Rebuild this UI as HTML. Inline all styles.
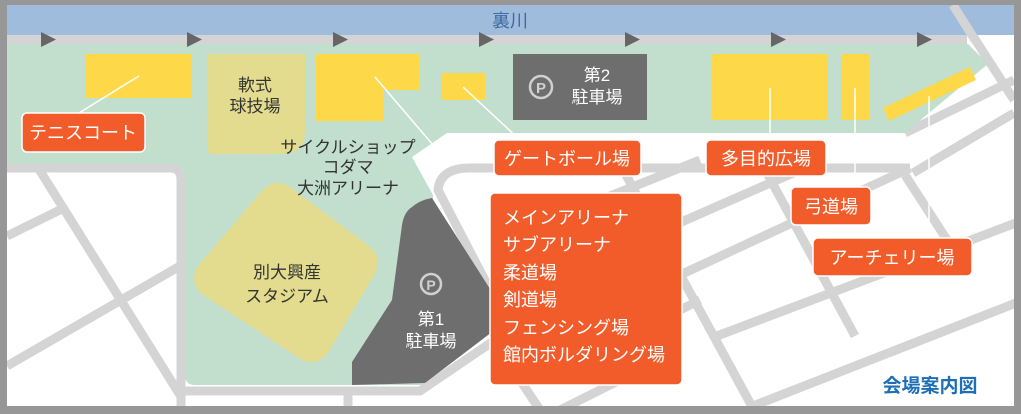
<!DOCTYPE html>
<html><head><meta charset="utf-8"><style>
html,body{margin:0;padding:0;background:#999;}
svg{display:block;font-family:"Liberation Sans","Noto Sans CJK JP",sans-serif;}
</style></head><body>
<svg width="1021" height="414" viewBox="0 0 1021 414" xmlns="http://www.w3.org/2000/svg">
<rect x="0" y="0" width="1021" height="414" fill="#979797"/>
<rect x="7" y="5" width="1007" height="401" fill="#ffffff"/>
<defs><clipPath id="c"><rect x="7" y="5" width="1007" height="401"/></clipPath></defs>
<g clip-path="url(#c)">
<g stroke="#d4d4d4" stroke-width="9" fill="none" stroke-linecap="butt">
<line x1="37" y1="166" x2="180" y2="395"/>
<line x1="7" y1="236" x2="66" y2="207"/>
<line x1="7" y1="366" x2="180" y2="266"/>
<line x1="348" y1="390" x2="348" y2="410"/>
<line x1="953" y1="5" x2="1014" y2="100"/>
<line x1="905" y1="133" x2="1014" y2="80"/>
<line x1="913" y1="173" x2="1014" y2="113"/>
<path d="M910 168 L470 168 Q440 168 438 190 L490 290"/>
<line x1="530" y1="228" x2="700" y2="160"/>
<line x1="590" y1="262" x2="800" y2="170"/>
<line x1="680" y1="275" x2="910" y2="168"/>
<line x1="717" y1="336" x2="1021" y2="221"/>
<line x1="748" y1="408" x2="1021" y2="301"/>
<line x1="640" y1="330" x2="700" y2="300"/>
<line x1="560" y1="410" x2="640" y2="370"/>
<line x1="626" y1="175" x2="755" y2="412"/>
<line x1="768" y1="175" x2="855" y2="336"/>
<line x1="905" y1="175" x2="960" y2="260"/>
<line x1="520" y1="380" x2="540" y2="410"/>
</g>
<rect x="7" y="5" width="1007" height="30" fill="#9fbcdc"/>
<line x1="953" y1="5" x2="975" y2="40" stroke="#d4d4d4" stroke-width="9"/>
<path d="M7 44 L968 44 L988 64 L905 133 L447 133 L412 157 L433 195 L433 385 L195 385 Q185 385 185 375 L185 178 Q185 165 172 165 L7 165 Z" fill="#c1dfcc"/>
<rect x="7" y="35" width="960" height="9" fill="#d4d4d4"/>
<g fill="#666">
<polygon points="41,32 56,39.5 41,47"/><polygon points="187,32 202,39.5 187,47"/><polygon points="333,32 348,39.5 333,47"/><polygon points="479,32 494,39.5 479,47"/><polygon points="625,32 640,39.5 625,47"/><polygon points="771,32 786,39.5 771,47"/><polygon points="917,32 932,39.5 917,47"/>
</g>
<g stroke="#d4d4d4" stroke-width="9" fill="none">
<path d="M7 168 L170 168 Q181 168 181 180 L181 410"/>
<path d="M181 391 L420 391 L495 340"/>
</g>
<polygon points="447,136 500,133 470,160 440,168 420,160" fill="#fff"/>
<g fill="#fdd94a">
<rect x="86" y="54" width="106" height="44"/>
<polygon points="316,54 419,54 419,90 383,90 383,121 316,121"/>
<rect x="441" y="73" width="44" height="27"/>
<rect x="712" y="54" width="116" height="66"/>
<rect x="841" y="54" width="29" height="66"/>
<polygon points="883,108 970,67 976,80 889,121"/>
</g>
<path d="M207 54 L305 54 L305 130 Q305 154 281 154 L213 154 Q207 154 207 148 Z" fill="#e3dc8e"/>
<polygon points="278,203 358,263 311,342 214,278" fill="#e3dc8e" stroke="#e3dc8e" stroke-width="40" stroke-linejoin="round"/>
<rect x="513" y="54" width="134" height="66" fill="#6e6e6e"/>
<path d="M412 207 Q420 200 432 198 L492 292 L492 332 L425 383 L352 385 L352 362 L392 300 L402 225 Q404 212 412 207 Z" fill="#6e6e6e"/>
<g stroke="#fff" stroke-width="1.5">
<line x1="139" y1="76" x2="79" y2="113"/>
<line x1="375" y1="77" x2="433" y2="145"/>
<line x1="463" y1="87" x2="520" y2="140"/>
<line x1="770" y1="88" x2="770" y2="140"/>
<line x1="855" y1="88" x2="855" y2="187"/>
<line x1="929" y1="96" x2="929" y2="238"/>
</g>
</g>
<text x="510" y="27" font-size="18" fill="#3e6aa0" text-anchor="middle">裏川</text>
<g fill="#333" font-size="17" text-anchor="middle">
<text x="255" y="91">軟式</text><text x="255" y="112">球技場</text>
<text x="348" y="153">サイクルショップ</text><text x="348" y="173">コダマ</text><text x="348" y="194">大洲アリーナ</text>
<text x="287" y="278">別大興産</text><text x="287" y="302">スタジアム</text>
</g>
<g fill="#fff">
<circle cx="541" cy="87" r="11" fill="none" stroke="#d0d0d0" stroke-width="2.5"/>
<text x="541" y="93" font-size="15" text-anchor="middle" fill="#d0d0d0" font-weight="bold">P</text>
<text x="597" y="81" font-size="17" text-anchor="middle">第2</text>
<text x="597" y="103" font-size="17" text-anchor="middle">駐車場</text>
<circle cx="431" cy="284" r="10" fill="none" stroke="#d0d0d0" stroke-width="2.5"/>
<text x="431" y="290" font-size="14" text-anchor="middle" fill="#d0d0d0" font-weight="bold">P</text>
<text x="431" y="325" font-size="17" text-anchor="middle">第1</text>
<text x="431" y="347" font-size="17" text-anchor="middle">駐車場</text>
</g>
<g fill="#f25c2b" stroke="#fff" stroke-width="1.5">
<rect x="22" y="113" width="123" height="39" rx="5"/>
<rect x="494" y="140" width="147" height="36" rx="5"/>
<rect x="706" y="140" width="120" height="36" rx="5"/>
<rect x="791" y="187" width="80" height="38" rx="5"/>
<rect x="813" y="238" width="159" height="38" rx="5"/>
<rect x="490" y="193" width="192" height="192" rx="5"/>
</g>
<g fill="#fff" font-size="18">
<text x="83" y="139" text-anchor="middle">テニスコート</text>
<text x="567" y="165" text-anchor="middle">ゲートボール場</text>
<text x="766" y="165" text-anchor="middle">多目的広場</text>
<text x="831" y="213" text-anchor="middle">弓道場</text>
<text x="892" y="264" text-anchor="middle">アーチェリー場</text>
<text x="503" y="224">メインアリーナ</text>
<text x="503" y="251">サブアリーナ</text>
<text x="503" y="279">柔道場</text>
<text x="503" y="306">剣道場</text>
<text x="503" y="334">フェンシング場</text>
<text x="503" y="361">館内ボルダリング場</text>
</g>
<text x="930" y="392" font-size="19" font-weight="bold" fill="#1d6fb8" text-anchor="middle">会場案内図</text>
</svg>
</body></html>
